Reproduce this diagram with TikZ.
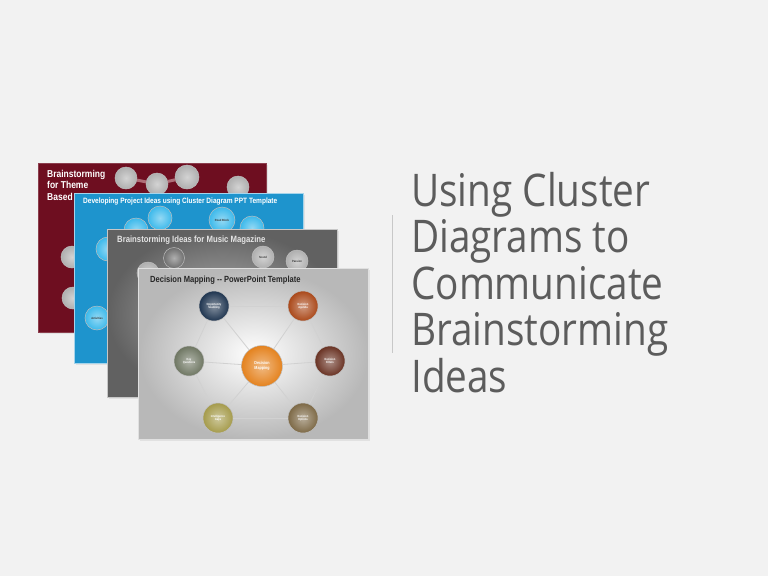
\documentclass[tikz,border=0pt]{standalone}
\usepackage{fontspec}
\setmainfont{Liberation Sans}
\newfontfamily\titlefont[FakeStretch=0.86]{Open Sans}
\newfontfamily\cardfont[FakeStretch=0.85]{Liberation Sans}
\usetikzlibrary{shadows}

\definecolor{slidebg}{RGB}{242,242,242}
\definecolor{titlegray}{RGB}{92,92,92}
\definecolor{dividergray}{RGB}{200,200,200}
\definecolor{maroon}{RGB}{110,14,32}
\definecolor{cardblue}{RGB}{30,148,205}
\definecolor{ballblue}{RGB}{60,185,235}
\definecolor{ballgray}{RGB}{175,175,175}
\definecolor{darkballgray}{RGB}{110,110,110}
\definecolor{ribbon}{RGB}{175,110,120}
\definecolor{navyball}{RGB}{31,53,80}
\definecolor{rustball}{RGB}{170,72,25}
\definecolor{sageball}{RGB}{110,118,98}
\definecolor{orangeball}{RGB}{228,130,30}
\definecolor{brownball}{RGB}{105,50,35}
\definecolor{oliveball}{RGB}{165,155,75}
\definecolor{khakiball}{RGB}{125,105,70}

\tikzset{
  card/.style={anchor=north west, inner sep=0pt, line width=1.2pt,
    drop shadow={opacity=0.15, shadow xshift=1.2pt, shadow yshift=-1.2pt}},
  cardtitle/.style={anchor=north west, inner sep=0pt, align=left,
    font=\cardfont\bfseries},
  sphere/.style={circle, inner sep=0pt, draw=white!75!black, line width=0.5pt,
    shading=radial, inner color=#1!55!white, outer color=#1,
    text=white, align=center, font=\cardfont\bfseries\fontsize{3}{3.4}\selectfont},
  spoke/.style={draw=white!82!black, line width=0.8pt},
  title/.style={anchor=base west, inner sep=0pt, text=titlegray,
    font=\titlefont\fontsize{45}{46}\selectfont}
}

\begin{document}
\begin{tikzpicture}[x=1pt, y=-1pt]
  \fill[slidebg] (0,0) rectangle (768,576);
  \useasboundingbox (0,0) rectangle (768,576);

  % slide 1: theme brainstorming
  \node (themecard) at (38,163) [card, fill=maroon, draw=maroon!80!white,
    minimum width=228pt, minimum height=169pt] {};
  \node (themetitle) at (47,170) [cardtitle, text=white,
    font=\cardfont\bfseries\fontsize{10}{11.5}\selectfont]
    {Brainstorming\\for Theme\\Based};
  \node (r1) at (126,178) [sphere=ballgray, minimum size=22pt] {};
  \node (r2) at (157,184) [sphere=ballgray, minimum size=22pt] {};
  \node (r3) at (187,177) [sphere=ballgray, minimum size=24pt] {};
  \node (r4) at (238,187) [sphere=ballgray, minimum size=22pt] {};
  \node (r5) at (72,257) [sphere=ballgray, minimum size=22pt] {};
  \node (r6) at (73,298) [sphere=ballgray, minimum size=22pt] {};
  \draw[ribbon, line width=3pt] (r1) -- (r2);
  \draw[ribbon, line width=3pt] (r2) -- (r3);

  % slide 2: project ideas
  \node (projcard) at (74,193) [card, fill=cardblue, draw=cardblue!40!white,
    minimum width=229pt, minimum height=170pt] {};
  \node (projtitle) at (83,197.5) [cardtitle, text=white,
    font=\cardfont\bfseries\fontsize{7.7}{9}\selectfont]
    {Developing Project Ideas using Cluster Diagram PPT Template};
  \node (b1) at (160,218) [sphere=ballblue, minimum size=24pt] {};
  \node (b2) at (222,220) [sphere=ballblue, minimum size=26pt, text=black!80]
    {Road Block};
  \node (b3) at (252,228) [sphere=ballblue, minimum size=24pt] {};
  \node (b4) at (136,230) [sphere=ballblue, minimum size=24pt] {};
  \node (b5) at (108,249) [sphere=ballblue, minimum size=24pt] {};
  \node (b6) at (97,318) [sphere=ballblue, minimum size=24pt, text=black!80]
    {Activities};

  % slide 3: music magazine
  \node (musiccard) at (107,229) [card, shading=radial, inner color=black!30,
    outer color=black!62, draw=white!78!black,
    minimum width=230pt, minimum height=168pt] {};
  \node (musictitle) at (117,236) [cardtitle, text=white!90!black,
    font=\cardfont\bfseries\fontsize{9.1}{10}\selectfont]
    {Brainstorming Ideas for Music Magazine};
  \node (g1) at (174,258) [sphere=darkballgray, minimum size=21pt] {};
  \node (g2) at (263,257) [sphere=ballgray, minimum size=22pt, text=black!80]
    {Sound};
  \node (g3) at (297,261) [sphere=ballgray, minimum size=22pt, text=black!80]
    {Passion};
  \node (g4) at (148,273) [sphere=ballgray, minimum size=22pt] {};

  % slide 4: decision mapping
  \node (mapcard) at (138,268) [card, shading=radial, inner color=white,
    outer color=black!28, draw=white!88!black,
    minimum width=230pt, minimum height=171pt] {};
  \node (maptitle) at (150,276) [cardtitle, text=black!85,
    font=\cardfont\bfseries\fontsize{8.9}{10}\selectfont]
    {Decision Mapping -- PowerPoint Template};

  \node (opp) at (214,306) [sphere=navyball, minimum size=30pt]
    {Opportunity\\Scanning};
  \node (agenda) at (303,306) [sphere=rustball, minimum size=30pt]
    {Decision\\Agenda};
  \node (questions) at (189,361) [sphere=sageball, minimum size=30pt]
    {Key\\Questions};
  \node (mapping) at (262,366) [sphere=orangeball, minimum size=41pt,
    font=\cardfont\bfseries\fontsize{4.3}{5}\selectfont]
    {Decision\\Mapping};
  \node (filters) at (330,361) [sphere=brownball, minimum size=30pt]
    {Decision\\Filters};
  \node (gaps) at (218,418) [sphere=oliveball, minimum size=30pt]
    {Intelligence\\Gaps};
  \node (options) at (303,418) [sphere=khakiball, minimum size=30pt]
    {Decision\\Options};

  \draw[spoke] (opp) -- (agenda);
  \draw[spoke] (agenda) -- (filters);
  \draw[spoke] (filters) -- (options);
  \draw[spoke] (options) -- (gaps);
  \draw[spoke] (gaps) -- (questions);
  \draw[spoke] (questions) -- (opp);
  \draw[spoke] (mapping) -- (opp);
  \draw[spoke] (mapping) -- (agenda);
  \draw[spoke] (mapping) -- (filters);
  \draw[spoke] (mapping) -- (options);
  \draw[spoke] (mapping) -- (gaps);
  \draw[spoke] (mapping) -- (questions);

  % divider and heading
  \coordinate (divtop) at (392,215);
  \coordinate (divbot) at (392,353);
  \draw[dividergray, line width=1pt] (divtop) -- (divbot);

  \node (line1) at (411,206) [title] {Using Cluster};
  \node (line2) at (411,252.5) [title] {Diagrams to};
  \node (line3) at (411,299) [title] {Communicate};
  \node (line4) at (411,345.5) [title] {Brainstorming};
  \node (line5) at (411,392) [title] {Ideas};
\end{tikzpicture}
\end{document}
